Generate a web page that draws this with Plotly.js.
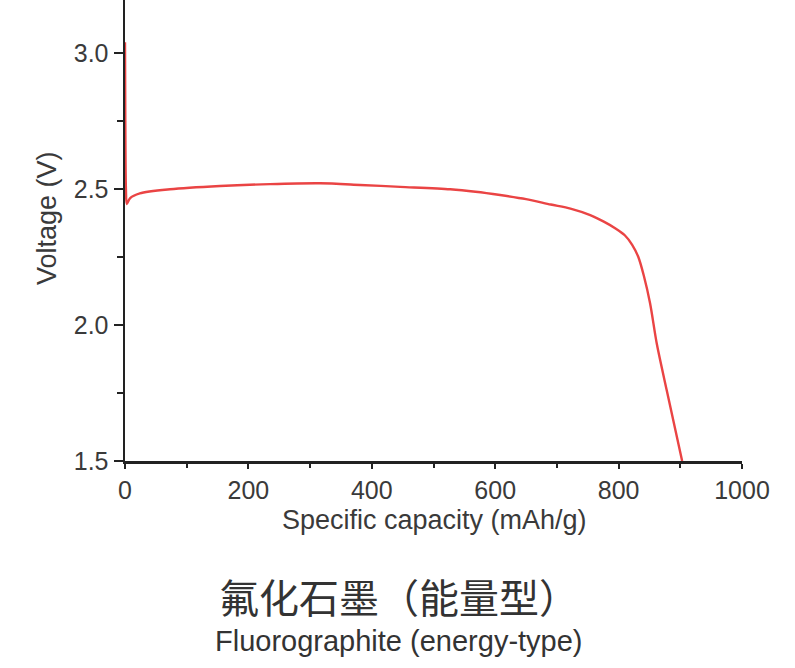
<!DOCTYPE html>
<html>
<head>
<meta charset="utf-8">
<script src="https://cdn.plot.ly/plotly-3.0.1.min.js"></script>
<style>html,body{margin:0;padding:0;background:#fff;}#chart{width:795px;height:668px;}</style>
</head>
<body>
<div id="chart"></div>
<script>
// Discharge curve of fluorographite (energy-type)
const capacity = [0, 0.5, 1.5, 3, 8, 24, 73, 154, 235, 316, 381, 446, 527, 568, 608, 650, 690, 722, 754, 776, 795, 810, 822, 832, 841, 851, 862, 878, 903];
const voltage  = [3.04, 2.75, 2.50, 2.445, 2.466, 2.484, 2.499, 2.511, 2.518, 2.521, 2.515, 2.508, 2.499, 2.490, 2.478, 2.463, 2.443, 2.428, 2.404, 2.380, 2.355, 2.330, 2.295, 2.250, 2.180, 2.080, 1.930, 1.760, 1.500];

const xTickVals = [0, 200, 400, 600, 800, 1000];
const yTickVals = [1.5, 2.0, 2.5, 3.0];
const xTitle = 'Specific capacity (mAh/g)';
const yTitle = 'Voltage (V)';
const titleZh = '氟化石墨（能量型）';
const titleEn = 'Fluorographite (energy-type)';

const W = 795, H = 668;
const L = 125, R = 53, T = 0, B = 207;
const pw = W - L - R, ph = H - T - B;
const px = x => (x - L) / pw;
const py = y => (H - B - y) / ph;

const trace = {
  x: capacity, y: voltage, type: 'scatter', mode: 'lines',
  line: {color: '#ea4444', width: 2.4, shape: 'spline', smoothing: 0.8},
  hoverinfo: 'skip'
};

const axisCommon = {
  showgrid: false, zeroline: false, showline: true,
  linecolor: '#222', linewidth: 2.5,
  ticks: 'outside', tickcolor: '#222', tickwidth: 2,
  tickfont: {family: 'Liberation Sans, Arial, sans-serif', size: 25, color: '#3a3a3a'}
};

const layout = {
  width: W, height: H,
  margin: {l: L, r: R, t: T, b: B, pad: 0},
  paper_bgcolor: '#fff', plot_bgcolor: '#fff',
  showlegend: false,
  xaxis: Object.assign({}, axisCommon, {
    range: [0, 1000], tickvals: xTickVals, ticklen: 5,
    minor: {dtick: 100, tick0: 0, ticks: 'outside', ticklen: 4, tickcolor: '#222', tickwidth: 2}
  }),
  yaxis: Object.assign({}, axisCommon, {
    range: [1.5, 3.195], tickvals: yTickVals, tickformat: '.1f', ticklen: 9,
    minor: {dtick: 0.25, tick0: 1.5, ticks: 'outside', ticklen: 6, tickcolor: '#222', tickwidth: 2}
  }),
  annotations: [
    {text: xTitle, xref: 'paper', yref: 'paper', x: px(434), y: py(520), xanchor: 'center', yanchor: 'middle', showarrow: false,
     font: {family: 'Liberation Sans, Arial, sans-serif', size: 27, color: '#3a3a3a'}},
    {text: yTitle, xref: 'paper', yref: 'paper', x: px(47), y: py(218), xanchor: 'center', yanchor: 'middle', showarrow: false, textangle: -90,
     font: {family: 'Liberation Sans, Arial, sans-serif', size: 27, color: '#3a3a3a'}},
    {text: titleZh, xref: 'paper', yref: 'paper', x: px(399), y: py(596), xanchor: 'center', yanchor: 'middle', showarrow: false,
     font: {family: 'Noto Sans CJK SC, sans-serif', size: 40, color: '#333'}},
    {text: titleEn, xref: 'paper', yref: 'paper', x: px(399), y: py(641), xanchor: 'center', yanchor: 'middle', showarrow: false,
     font: {family: 'Liberation Sans, Arial, sans-serif', size: 29, color: '#333'}}
  ]
};

Plotly.newPlot('chart', [trace], layout, {displayModeBar: false, staticPlot: true});
</script>
</body>
</html>
